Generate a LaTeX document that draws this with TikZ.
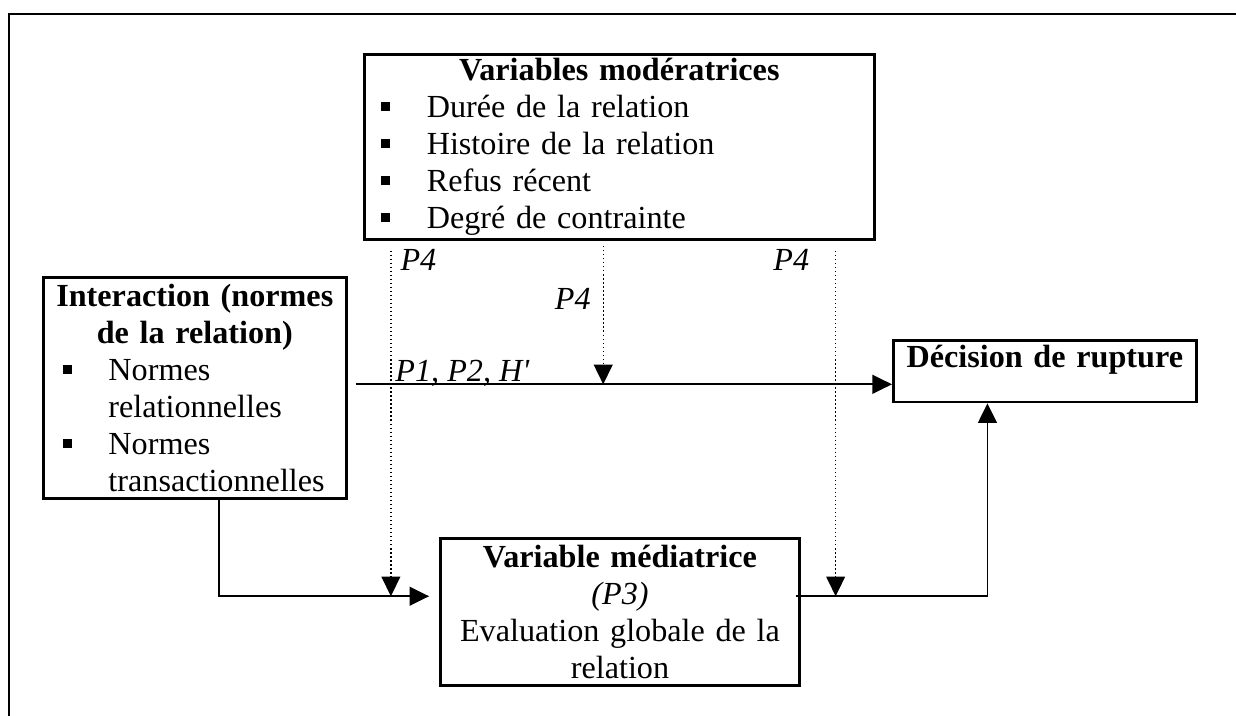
\documentclass[tikz,border=0pt]{standalone}
\usepackage{fontspec}
\setmainfont{Liberation Serif}
\usetikzlibrary{arrows.meta}

\newlength{\pucew}
\setlength{\pucew}{17pt}
\newcommand{\puce}{\makebox[\pucew][l]{\rule[2.4pt]{3.4pt}{3.4pt}}}

\tikzstyle{box} = [draw, line width=1pt, inner xsep=6.3pt, inner ysep=0pt, anchor=north west]
\tikzstyle{link} = [line width=0.7pt, -{Triangle[length=7.3pt, width=7pt]}]
\tikzstyle{dotlink} = [line width=0.5pt, densely dotted, -{Triangle[length=7.3pt, width=7pt]}]
\tikzstyle{tag} = [inner sep=0pt, font=\fontsize{12}{13.8}\selectfont\itshape]

\begin{document}
\begin{tikzpicture}[x=0.373pt, y=-0.373pt, font=\fontsize{12}{13.8}\selectfont]
\useasboundingbox (0,0) rectangle (1236,716);
\draw[line width=1pt] (9,716) -- (9,14) -- (1236,14);

\node[box, text width=177.6pt, minimum height=69pt, align=left] (mod) at (363,53)
  {\makebox[\linewidth]{\textbf{Variables modératrices}}\\
   \puce Durée de la relation\\
   \puce Histoire de la relation\\
   \puce Refus récent\\
   \puce Degré de contrainte};
\node[box, text width=100.4pt, minimum height=82.4pt, align=left] (inter) at (42,276)
  {\makebox[\linewidth]{\textbf{Interaction (normes}}\\
   \makebox[\linewidth]{\textbf{de la relation)}}\\
   \hspace*{1pt}\puce Normes\\
   \hspace*{1pt}\hspace*{\pucew}relationnelles\\
   \hspace*{1pt}\puce Normes\\
   \hspace*{1pt}\hspace*{\pucew}transactionnelles};
\node[box, inner xsep=2pt, text width=109pt, text height=10pt, text depth=13pt, align=center] (dec) at (892,339)
  {\textbf{Décision de rupture}};
\node[box, inner xsep=3pt, text width=128pt, minimum height=54.8pt, align=center] (med) at (439,537)
  {\textbf{Variable médiatrice}\\
   \textit{(P3)}\\
   Evaluation globale de la\\
   relation};

\coordinate (ligne) at ([xshift=3pt,yshift=1.3pt]inter.east);
\coordinate (g1) at ([xshift=9.1pt]inter.south);
\coordinate (g2) at ([yshift=5.8pt]med.west);
\coordinate (d1) at ([xshift=-2pt,yshift=5.8pt]med.east);
\coordinate (d2) at ([xshift=-21.4pt]dec.south);
\coordinate (l4) at ([xshift=10.4pt,yshift=-3.7pt]mod.south west);
\coordinate (m4) at ([xshift=-6pt,yshift=-2pt]mod.south);
\coordinate (r4) at ([xshift=-14.9pt,yshift=-3.7pt]mod.south east);

\draw[link] (ligne) -- (ligne -| dec.west)
  node[tag, anchor=base west, pos=0, xshift=14.5pt, yshift=1pt] (p12) {P1, P2, H\textquotesingle};
\draw[link, shorten >=3.7pt] (g1) |- (g2);
\draw[link] (d1) -| (d2);
\draw[dotlink] (l4) -- (l4 |- g2);
\draw[dotlink] (m4) -- (m4 |- ligne);
\draw[dotlink] (r4) -- (r4 |- d1);

\node[tag, anchor=base west] (p4a) at ([xshift=3.4pt,yshift=-7.5pt]l4) {P4};
\node[tag, anchor=base east] (p4b) at ([xshift=-4.5pt,yshift=-23.5pt]m4) {P4};
\node[tag, anchor=base east] (p4c) at ([xshift=-9.7pt,yshift=-7.5pt]r4) {P4};
\end{tikzpicture}
\end{document}
